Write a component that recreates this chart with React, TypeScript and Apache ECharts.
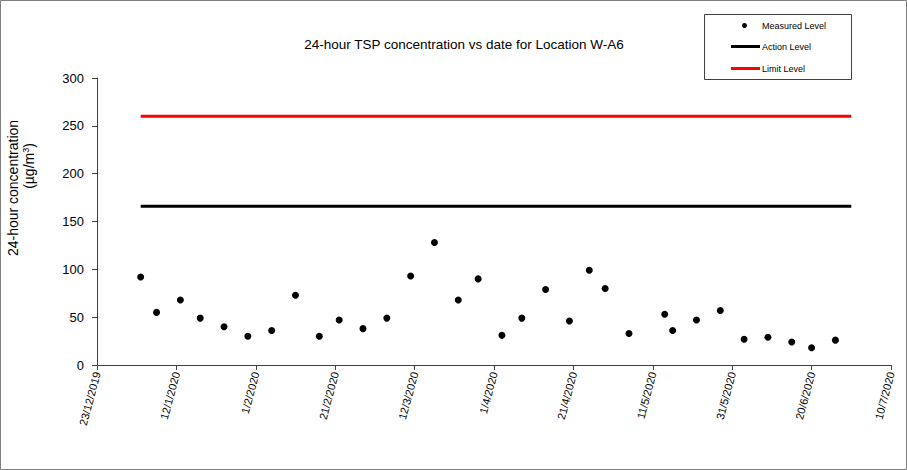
import React, { useEffect, useRef } from "react";
import * as echarts from "echarts";

const titleText = "24-hour TSP concentration vs date for Location W-A6";
const yTitleLine1 = "24-hour concentration";
const seriesNames = ["Measured Level", "Action Level", "Limit Level"];

const sampleDates = [
  "3/1/2020", "7/1/2020", "13/1/2020", "18/1/2020", "24/1/2020", "30/1/2020",
  "5/2/2020", "11/2/2020", "17/2/2020", "22/2/2020", "28/2/2020", "5/3/2020",
  "11/3/2020", "17/3/2020", "23/3/2020", "28/3/2020", "3/4/2020", "8/4/2020",
  "14/4/2020", "20/4/2020", "25/4/2020", "29/4/2020", "5/5/2020", "14/5/2020",
  "16/5/2020", "22/5/2020", "28/5/2020", "3/6/2020", "9/6/2020", "15/6/2020",
  "20/6/2020", "26/6/2020",
];
const measuredValues = [
  92, 55, 68, 49, 40, 30, 36, 73, 30, 47, 38, 49, 93, 128, 68, 90, 31, 49, 79, 46,
  99, 80, 33, 53, 36, 47, 57, 27, 29, 24, 18, 26,
];
const levelDates = ["3/1/2020", "30/6/2020"];
const actionLevel = [166, 166];
const limitLevel = [260, 260];

const axisStartDate = "23/12/2019";
const axisDays = 200;
const tickDays = 20;
const yMax = 300;
const yInterval = 50;

const parseDate = (s: string) => {
  const [d, m, y] = s.split("/").map(Number);
  return Date.UTC(y, m - 1, d);
};
const DAY = 86400000;
const base = parseDate(axisStartDate);
const toDay = (s: string) => Math.round((parseDate(s) - base) / DAY);
const fmtDay = (v: number) => {
  const dt = new Date(base + v * DAY);
  return `${dt.getUTCDate()}/${dt.getUTCMonth() + 1}/${dt.getUTCFullYear()}`;
};

export default function App() {
  const ref = useRef<HTMLDivElement>(null);
  useEffect(() => {
    document.body.style.margin = "0";
    if (!ref.current) return;
    const chart = echarts.init(ref.current, undefined, { renderer: "svg" });
    const font = "Liberation Sans, Arial, sans-serif";
    chart.setOption({
      animation: false,
      backgroundColor: "#ffffff",
      textStyle: { fontFamily: font },
      title: {
        text: titleText,
        left: 459,
        top: 32,
        textAlign: "center",
        textStyle: { fontSize: 13.5, fontWeight: "normal", color: "#000", fontFamily: font },
      },
      grid: { left: 97, right: 16, top: 78, bottom: 105 },
      xAxis: {
        type: "value",
        min: 0,
        max: axisDays,
        interval: tickDays,
        axisLine: { lineStyle: { color: "#404040", width: 1 } },
        axisTick: { show: true, length: 5, inside: false, lineStyle: { color: "#404040" } },
        splitLine: { show: false },
        axisLabel: {
          formatter: (v: number) => fmtDay(v),
          rotate: 75,
          margin: 7,
          fontSize: 11,
          color: "#000",
          fontFamily: font,
          showMinLabel: true,
          showMaxLabel: true,
        },
      },
      yAxis: {
        type: "value",
        min: 0,
        max: yMax,
        interval: yInterval,
        axisLine: { show: true, lineStyle: { color: "#404040", width: 1 } },
        axisTick: { show: true, length: 5, lineStyle: { color: "#404040" } },
        splitLine: { show: false },
        axisLabel: { margin: 13, fontSize: 13, color: "#000", fontFamily: font },
      },
      series: [
        {
          name: seriesNames[0],
          type: "scatter",
          symbol: "circle",
          symbolSize: 7,
          itemStyle: { color: "#000", opacity: 1 },
          data: sampleDates.map((d, i) => [toDay(d), measuredValues[i]]),
          z: 5,
        },
        {
          name: seriesNames[1],
          type: "line",
          showSymbol: false,
          symbol: "none",
          lineStyle: { color: "#000", width: 3 },
          data: levelDates.map((d, i) => [toDay(d), actionLevel[i]]),
        },
        {
          name: seriesNames[2],
          type: "line",
          showSymbol: false,
          symbol: "none",
          lineStyle: { color: "#ff0000", width: 3 },
          data: levelDates.map((d, i) => [toDay(d), limitLevel[i]]),
        },
      ],
      graphic: [
        {
          type: "rect",
          shape: { x: 0.5, y: 0.5, width: 906, height: 469 },
          style: { fill: "none", stroke: "#808080", lineWidth: 1 },
          silent: true,
        },
        {
          type: "text",
          x: 13,
          y: 188,
          rotation: Math.PI / 2,
          style: {
            text: yTitleLine1,
            fontSize: 14,
            fontFamily: font,
            fill: "#000",
            align: "center",
            verticalAlign: "middle",
          },
        },
        {
          type: "text",
          x: 29,
          y: 166,
          rotation: Math.PI / 2,
          style: {
            text: "(µg/m{sup|3})",
            fontSize: 14,
            fontFamily: font,
            fill: "#000",
            align: "center",
            verticalAlign: "middle",
            rich: {
              sup: { fontSize: 9, verticalAlign: "top", padding: [0, 0, 6, 0], fontFamily: font, fill: "#000" },
            },
          },
        },
        {
          type: "rect",
          shape: { x: 704.5, y: 14.5, width: 147, height: 65 },
          style: { fill: "#fff", stroke: "#404040", lineWidth: 1 },
        },
        {
          type: "circle",
          shape: { cx: 744.5, cy: 25.5, r: 2.5 },
          style: { fill: "#000" },
        },
        {
          type: "text",
          x: 762,
          y: 25.5,
          style: { text: seriesNames[0], fontSize: 9, fontFamily: font, fill: "#000", verticalAlign: "middle" },
        },
        {
          type: "line",
          shape: { x1: 731, y1: 46.5, x2: 760, y2: 46.5 },
          style: { stroke: "#000", lineWidth: 3 },
        },
        {
          type: "text",
          x: 762,
          y: 46.5,
          style: { text: seriesNames[1], fontSize: 9, fontFamily: font, fill: "#000", verticalAlign: "middle" },
        },
        {
          type: "line",
          shape: { x1: 731, y1: 68.5, x2: 760, y2: 68.5 },
          style: { stroke: "#ff0000", lineWidth: 3 },
        },
        {
          type: "text",
          x: 762,
          y: 68.5,
          style: { text: seriesNames[2], fontSize: 9, fontFamily: font, fill: "#000", verticalAlign: "middle" },
        },
      ],
    });
    return () => chart.dispose();
  }, []);
  return <div ref={ref} style={{ width: 907, height: 470 }} />;
}
